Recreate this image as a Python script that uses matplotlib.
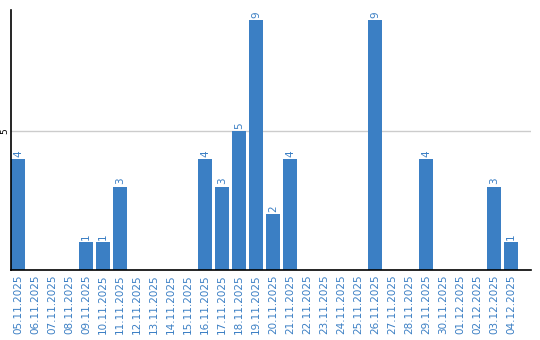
import matplotlib
matplotlib.use('Agg')
import matplotlib.pyplot as plt
import numpy as np

# daily counts, 05.11.2025 - 04.12.2025
dates = ['05.11.2025', '06.11.2025', '07.11.2025', '08.11.2025', '09.11.2025',
         '10.11.2025', '11.11.2025', '12.11.2025', '13.11.2025', '14.11.2025',
         '15.11.2025', '16.11.2025', '17.11.2025', '18.11.2025', '19.11.2025',
         '20.11.2025', '21.11.2025', '22.11.2025', '23.11.2025', '24.11.2025',
         '25.11.2025', '26.11.2025', '27.11.2025', '28.11.2025', '29.11.2025',
         '30.11.2025', '01.12.2025', '02.12.2025', '03.12.2025', '04.12.2025']
counts = [4, 0, 0, 0, 1, 1, 3, 0, 0, 0,
          0, 4, 3, 5, 9, 2, 4, 0, 0, 0,
          0, 9, 0, 0, 4, 0, 0, 0, 3, 1]

blue = '#3b7fc4'

fig = plt.figure(figsize=(5.4, 3.4), dpi=100)
ax = fig.add_axes([11/540, 70/340, 520/540, 260/340])

x = np.arange(len(dates))
ax.bar(x, counts, width=14/17, color=blue, zorder=2)

# value labels above the non-zero bars
for xi, v in zip(x, counts):
    if v > 0:
        ax.text(xi, v + 0.08, str(v), rotation=90, ha='center', va='bottom',
                color=blue, fontsize=7.5)

ax.set_xlim(-7/17, 29 + 20/17)
ax.set_ylim(0, 9.35)
ax.set_xticks(x)
ax.set_xticklabels(dates, rotation=90, color=blue, fontsize=7.5)
ax.set_yticks([5])
ax.set_yticklabels(['5'], rotation=90, va='center', fontsize=6.5)
ax.tick_params(axis='both', length=0)
ax.tick_params(axis='x', pad=3)
ax.tick_params(axis='y', pad=1)
ax.yaxis.grid(True, color='#cccccc', linewidth=1, zorder=0)
ax.set_axisbelow(True)

for side in ['top', 'right']:
    ax.spines[side].set_visible(False)
for side in ['left', 'bottom']:
    ax.spines[side].set_color('black')
    ax.spines[side].set_linewidth(1.2)

fig.savefig('out.png', dpi=100)
